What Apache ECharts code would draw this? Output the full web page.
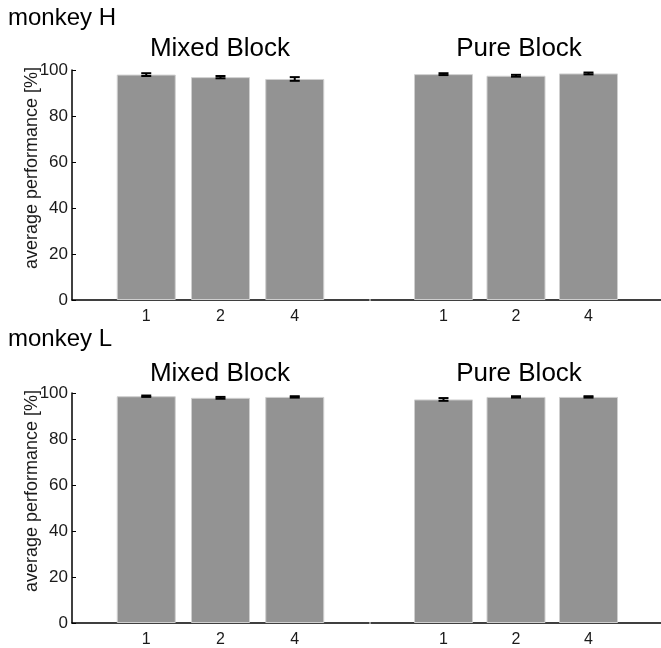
<!DOCTYPE html>
<html>
<head>
<meta charset="utf-8">
<script src="https://cdn.jsdelivr.net/npm/echarts@6/dist/echarts.min.js"></script>
<style>html,body{margin:0;padding:0;background:#fff}#c{width:661px;height:648px}</style>
</head>
<body>
<div id="c"></div>
<script>
// ---- data ----
var categories = ['1', '2', '4'];
var yTicks = [0, 20, 40, 60, 80, 100];
var monkeyH_mixed = [98.0, 96.9, 96.1];
var monkeyH_mixed_err = [0.6, 0.5, 0.8];
var monkeyH_pure = [98.2, 97.5, 98.5];
var monkeyH_pure_err = [0.4, 0.4, 0.4];
var monkeyL_mixed = [98.6, 97.9, 98.3];
var monkeyL_mixed_err = [0.3, 0.4, 0.3];
var monkeyL_pure = [97.2, 98.3, 98.3];
var monkeyL_pure_err = [0.6, 0.3, 0.3];
var panelTitles = ['Mixed Block', 'Pure Block'];
var monkeyTitles = ['monkey H', 'monkey L'];
var yLabel = 'average performance [%]';

var FONT = "'Liberation Sans', Arial, Helvetica, sans-serif";
var chart = echarts.init(document.getElementById('c'), null, {renderer: 'canvas'});

var panels = [
  {vals: monkeyH_mixed, err: monkeyH_mixed_err, left: 72, top: 70, yAxisShown: true},
  {vals: monkeyH_pure, err: monkeyH_pure_err, left: 371, top: 70, yAxisShown: false},
  {vals: monkeyL_mixed, err: monkeyL_mixed_err, left: 72, top: 393, yAxisShown: true},
  {vals: monkeyL_pure, err: monkeyL_pure_err, left: 371, top: 393, yAxisShown: false}
];
var positions = categories.map(function (c, i) { return i + 1; });

var grids = [], xAxes = [], yAxes = [], series = [];
panels.forEach(function (p, k) {
  grids.push({left: p.left, top: p.top, width: 297, height: 230, containLabel: false});
  xAxes.push({
    type: 'value', gridIndex: k, min: 0, max: 4,
    axisLine: {show: true, lineStyle: {color: '#000', width: 1.5}},
    axisTick: {show: true, inside: true, length: 4, customValues: positions, lineStyle: {color: '#000', width: 1}},
    axisLabel: {show: true, customValues: positions, fontFamily: FONT, fontSize: 16, color: '#1a1a1a', margin: 9,
      formatter: function (v) { return categories[Math.round(v) - 1] || ''; }},
    splitLine: {show: false}
  });
  yAxes.push({
    type: 'value', gridIndex: k, min: 0, max: 100, interval: 20,
    axisLine: {show: p.yAxisShown, lineStyle: {color: '#000', width: 1.5}},
    axisTick: {show: p.yAxisShown, inside: true, length: 4, lineStyle: {color: '#000', width: 1}},
    axisLabel: {show: p.yAxisShown, fontFamily: FONT, fontSize: 17, color: '#1a1a1a', margin: 4},
    splitLine: {show: false}
  });
  series.push({
    type: 'bar', xAxisIndex: k, yAxisIndex: k, barWidth: 59,
    itemStyle: {color: '#939393', borderColor: '#cfcfcf', borderWidth: 1},
    data: p.vals.map(function (v, i) { return [positions[i], v]; }),
    silent: true, animation: false
  });
  series.push({
    type: 'custom', xAxisIndex: k, yAxisIndex: k,
    data: p.vals.map(function (v, i) { return [positions[i], v, p.err[i]]; }),
    renderItem: function (params, api) {
      var x = api.value(0), v = api.value(1), e = api.value(2);
      var hi = api.coord([x, v + e]);
      var lo = api.coord([x, v - e]);
      var cw = 5;
      return {
        type: 'group',
        children: [
          {type: 'line', shape: {x1: hi[0], y1: hi[1], x2: lo[0], y2: lo[1]}, style: {stroke: '#000', lineWidth: 2}},
          {type: 'line', shape: {x1: hi[0] - cw, y1: hi[1], x2: hi[0] + cw, y2: hi[1]}, style: {stroke: '#000', lineWidth: 2}},
          {type: 'line', shape: {x1: lo[0] - cw, y1: lo[1], x2: lo[0] + cw, y2: lo[1]}, style: {stroke: '#000', lineWidth: 2}}
        ]
      };
    },
    z: 5, silent: true, animation: false
  });
});

var graphics = [
  {type: 'text', x: 8, y: 18, style: {text: monkeyTitles[0], font: '24px ' + FONT, fill: '#000', textVerticalAlign: 'middle'}},
  {type: 'text', x: 8, y: 339, style: {text: monkeyTitles[1], font: '24px ' + FONT, fill: '#000', textVerticalAlign: 'middle'}},
  {type: 'text', x: 220, y: 49, style: {text: panelTitles[0], font: '26px ' + FONT, fill: '#000', textAlign: 'center', textVerticalAlign: 'middle'}},
  {type: 'text', x: 519, y: 49, style: {text: panelTitles[1], font: '26px ' + FONT, fill: '#000', textAlign: 'center', textVerticalAlign: 'middle'}},
  {type: 'text', x: 220, y: 374, style: {text: panelTitles[0], font: '26px ' + FONT, fill: '#000', textAlign: 'center', textVerticalAlign: 'middle'}},
  {type: 'text', x: 519, y: 374, style: {text: panelTitles[1], font: '26px ' + FONT, fill: '#000', textAlign: 'center', textVerticalAlign: 'middle'}},
  {type: 'text', x: 32, y: 168, rotation: Math.PI / 2, style: {text: yLabel, font: '18px ' + FONT, fill: '#1a1a1a', textAlign: 'center', textVerticalAlign: 'middle'}},
  {type: 'text', x: 32, y: 491, rotation: Math.PI / 2, style: {text: yLabel, font: '18px ' + FONT, fill: '#1a1a1a', textAlign: 'center', textVerticalAlign: 'middle'}}
];

chart.setOption({
  animation: false,
  backgroundColor: '#fff',
  grid: grids, xAxis: xAxes, yAxis: yAxes, series: series,
  graphic: graphics
});
</script>
</body>
</html>
